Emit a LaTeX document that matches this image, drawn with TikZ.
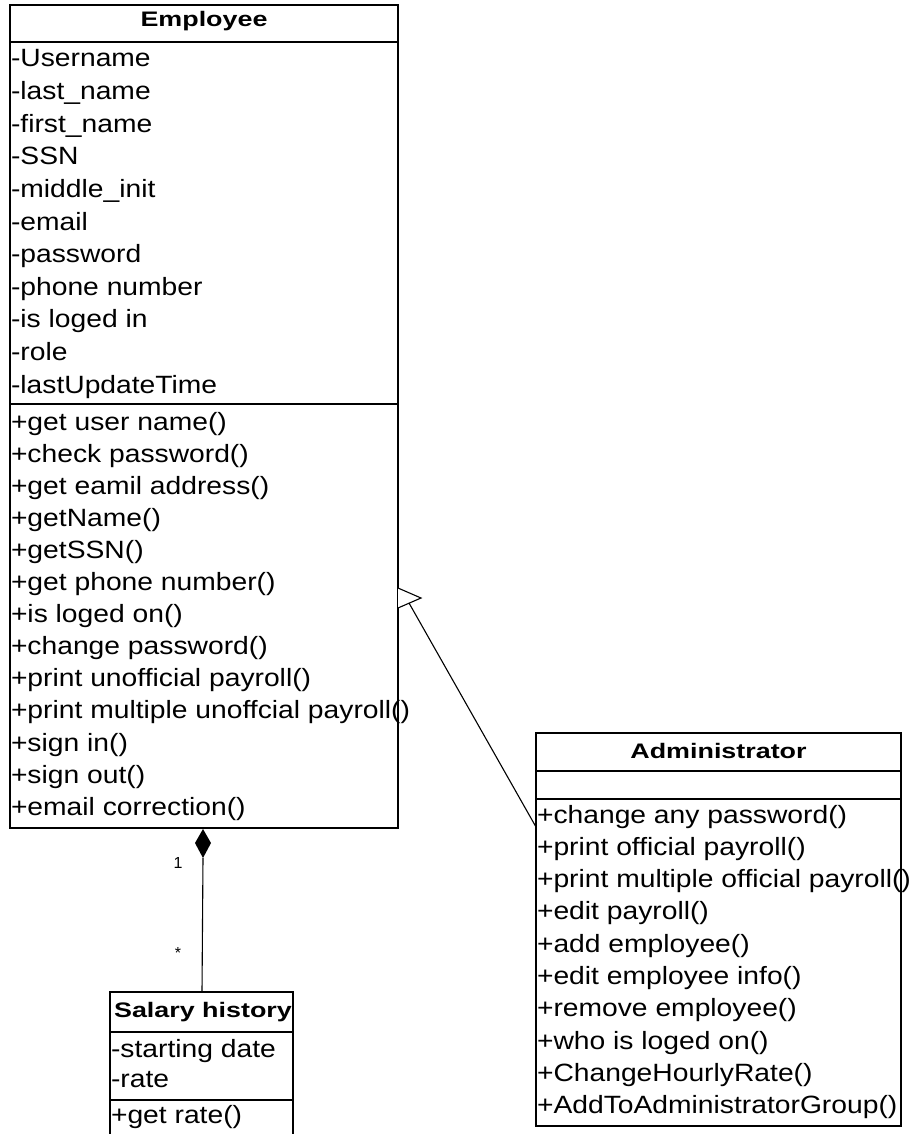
\documentclass[tikz,border=0pt]{standalone}
\usepackage{fontspec}
\setmainfont{Liberation Sans}
\newfontfamily\bodyf{Liberation Sans}[FakeStretch=1.13]
\newfontfamily\titlef{Liberation Sans}[FakeStretch=1.28]
\tikzset{
  clsbox/.style={draw, line width=1.3pt, inner sep=0pt, outer sep=0pt, anchor=north west},
  sep/.style={line width=1.3pt},
  item/.style={anchor=base west, inner sep=0pt, outer sep=0pt, font=\bodyf\fontsize{25}{30}\selectfont},
  ttl/.style={anchor=base, inner sep=0pt, outer sep=0pt, font=\titlef\bfseries\fontsize{21}{25}\selectfont},
  mult/.style={inner sep=0pt, font=\fontsize{16}{19}\selectfont},
  conn/.style={line width=1.1pt}
}
\begin{document}
\begin{tikzpicture}[x=1pt,y=-1pt]
\clip (0,0) rectangle (916,1134);
\fill[white] (0,0) rectangle (916,1134);

% ---------- Employee ----------
\node[clsbox, minimum width=388pt, minimum height=823pt] (emp) at (10,5) {};
\draw[sep] (10,42) -- (398,42);
\draw[sep] (10,404) -- (398,404);
\node[ttl] (empt) at (204,27) {Employee};
\foreach \t [count=\i from 0] in {-Username,-last\_name,-first\_name,-SSN,-middle\_init,-email,-password,-phone number,-is loged in,-role,-lastUpdateTime}
  \node[item] (ea\i) at (11,67+32.6*\i) {\t};
\foreach \t [count=\i from 0] in {+get user name(),+check password(),+get eamil address(),+getName(),+getSSN(),+get phone number(),+is loged on(),+change password(),+print unofficial payroll(),+print multiple unoffcial payroll(),+sign in(),+sign out(),+email correction()}
  \node[item] (em\i) at (11,430+32.1*\i) {\t};

% ---------- Administrator ----------
\node[clsbox, minimum width=365pt, minimum height=393pt] (adm) at (536,733) {};
\draw[sep] (536,771) -- (901,771);
\draw[sep] (536,799) -- (901,799);
\node[ttl] (admt) at (718.5,758) {Administrator};
\foreach \t [count=\i from 0] in {+change any password(),+print official payroll(),+print multiple official payroll(),+edit payroll(),+add employee(),+edit employee info(),+remove employee(),+who is loged on(),+ChangeHourlyRate(),+AddToAdministratorGroup()}
  \node[item] (am\i) at (537,823+32.3*\i) {\t};

% ---------- Salary history ----------
\node[clsbox, minimum width=183pt, minimum height=170pt] (sal) at (110,992) {};
\begin{scope}
  \clip (110,992) rectangle (293,1032);
  \node[ttl] (salt) at (203,1017) {Salary history};
\end{scope}
\draw[sep] (110,1032) -- (293,1032);
\draw[sep] (110,1100) -- (293,1100);
\node[item] (sa0) at (111,1057) {-starting date};
\node[item] (sa1) at (111,1087) {-rate};
\node[item] (sm0) at (111,1123) {+get rate()};

% ---------- Generalization ----------
\coordinate (gt) at (409,603);
\coordinate (ga) at (536,827);
\draw[conn, fill=white] (398,588) -- (421,598) -- (398,608);
\draw[conn] (ga) -- (gt);

% ---------- Composition ----------
\coordinate (dtop) at (203,829);
\coordinate (dbot) at (203,858);
\coordinate (sn) at (202,992);
\fill (dtop) -- (211,843) -- (dbot) -- (195,843) -- cycle;
\draw[conn] (dbot) -- (sn);
\node[mult] (m1) at (178,863) {1};
\node[mult] (m2) at (178,953) {*};
\end{tikzpicture}
\end{document}
